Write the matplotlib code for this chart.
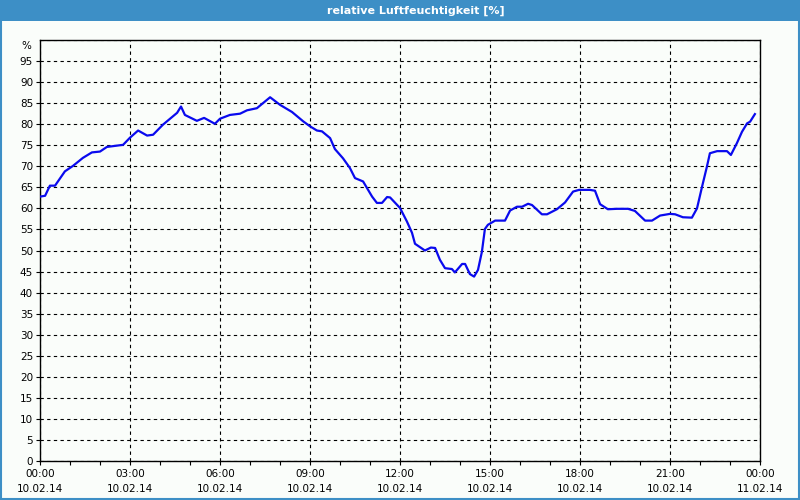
import matplotlib
matplotlib.use("Agg")
import matplotlib.pyplot as plt
from matplotlib.patches import Rectangle
import matplotlib.transforms as mtransforms
import numpy as np

title = "relative Luftfeuchtigkeit [%]"

# time in hours since 10.02.14 00:00
hours = [0.0, 0.17, 0.33, 0.5, 0.83, 1.1, 1.43, 1.73, 2.0, 2.23, 2.77, 3.0,
         3.27, 3.57, 3.77, 4.1, 4.57, 4.7, 4.83, 5.23, 5.47, 5.83, 6.0, 6.33,
         6.67, 6.9, 7.23, 7.67, 8.0, 8.4, 8.77, 9.0, 9.23, 9.4, 9.67, 9.83,
         10.1, 10.33, 10.5, 10.77, 11.07, 11.23, 11.4, 11.57, 11.67, 12.0,
         12.23, 12.4, 12.5, 12.83, 13.03, 13.17, 13.33, 13.5, 13.73, 13.83,
         14.07, 14.17, 14.33, 14.47, 14.6, 14.73, 14.83, 14.93, 15.17, 15.5,
         15.67, 15.9, 16.07, 16.27, 16.4, 16.73, 16.9, 17.23, 17.5, 17.77,
         17.97, 18.33, 18.5, 18.67, 18.93, 19.23, 19.6, 19.83, 20.17, 20.4,
         20.67, 21.0, 21.17, 21.43, 21.73, 21.9, 22.07, 22.23, 22.33, 22.57,
         22.9, 23.03, 23.23, 23.4, 23.57, 23.67, 23.83]
humidity = [62.8, 63.0, 65.4, 65.4, 68.8, 70.1, 72.0, 73.3, 73.5, 74.6, 75.1, 76.8,
            78.5, 77.3, 77.5, 79.9, 82.7, 84.2, 82.2, 80.8, 81.5, 80.1, 81.3, 82.2,
            82.5, 83.3, 83.8, 86.4, 84.6, 82.9, 80.7, 79.5, 78.5, 78.3, 76.7, 74.1,
            71.9, 69.6, 67.2, 66.4, 62.8, 61.3, 61.3, 62.7, 62.6, 60.1,
            56.9, 54.2, 51.6, 50.0, 50.7, 50.6, 47.8, 45.8, 45.6, 44.8,
            46.8, 46.8, 44.4, 43.8, 45.4, 49.7, 55.1, 56.1, 57.1, 57.1,
            59.5, 60.4, 60.4, 61.1, 60.8, 58.6, 58.6, 59.8, 61.4, 64.0,
            64.4, 64.4, 64.2, 61.0, 59.8, 59.9, 59.9, 59.4, 57.1, 57.1,
            58.3, 58.7, 58.6, 57.9, 57.8, 60.0, 65.2, 69.9, 73.1, 73.6,
            73.6, 72.7, 75.5, 78.2, 80.2, 80.6, 82.4]

x_tick_hours = [0, 3, 6, 9, 12, 15, 18, 21, 24]
x_tick_labels = ["00:00\n10.02.14", "03:00\n10.02.14", "06:00\n10.02.14",
                 "09:00\n10.02.14", "12:00\n10.02.14", "15:00\n10.02.14",
                 "18:00\n10.02.14", "21:00\n10.02.14", "00:00\n11.02.14"]
y_ticks = list(range(0, 101, 5))
y_tick_labels = [str(v) for v in y_ticks[:-1]] + ["%"]

bg = "#FAFDFA"
blue_bar = "#3D8FC6"

fig = plt.figure(figsize=(8, 5), dpi=100, facecolor=bg)

# title bar and frame
fig.patches.append(Rectangle((0, 0.958), 1, 0.042, transform=fig.transFigure,
                             facecolor=blue_bar, edgecolor="none", zorder=0))
fig.patches.append(Rectangle((0.0012, 0.002), 0.9976, 0.99, transform=fig.transFigure,
                             facecolor="none", edgecolor=blue_bar, linewidth=1.5, zorder=0))
fig.text(0.52, 0.979, title, color="white", fontsize=8, fontweight="bold",
         ha="center", va="center", family="DejaVu Sans")

ax = fig.add_axes([0.05, 0.078, 0.9, 0.842])
ax.set_facecolor(bg)
ax.plot(hours, humidity, color="#0A0AEE", linewidth=1.6, zorder=3)

ax.set_xlim(0, 24)
ax.set_ylim(0, 100)
ax.set_xticks(x_tick_hours)
ax.set_xticklabels(x_tick_labels, fontsize=7.5, linespacing=1.6)
ax.set_xticks(np.arange(0, 25, 1), minor=True)
ax.set_yticks(y_ticks)
ax.set_yticklabels(y_tick_labels, fontsize=7.5)

ax.tick_params(axis="x", which="both", direction="out", length=3, width=0.8, pad=3)
ax.tick_params(axis="y", which="both", direction="out", length=3, width=0.8, pad=2)

# shift the "%" label slightly down like the reference
pct = ax.get_yticklabels()[-1]
pct.set_transform(pct.get_transform() + mtransforms.ScaledTranslation(-2 / 100, -5 / 100, fig.dpi_scale_trans))
ax.yaxis.get_major_ticks()[-1].tick1line.set_visible(False)

ax.grid(True, which="major", color="black", linestyle=(0, (3, 3)), linewidth=0.8)
for s in ax.spines.values():
    s.set_color("black")
    s.set_linewidth(1.0)

fig.savefig("out.png", dpi=100, facecolor=bg)
